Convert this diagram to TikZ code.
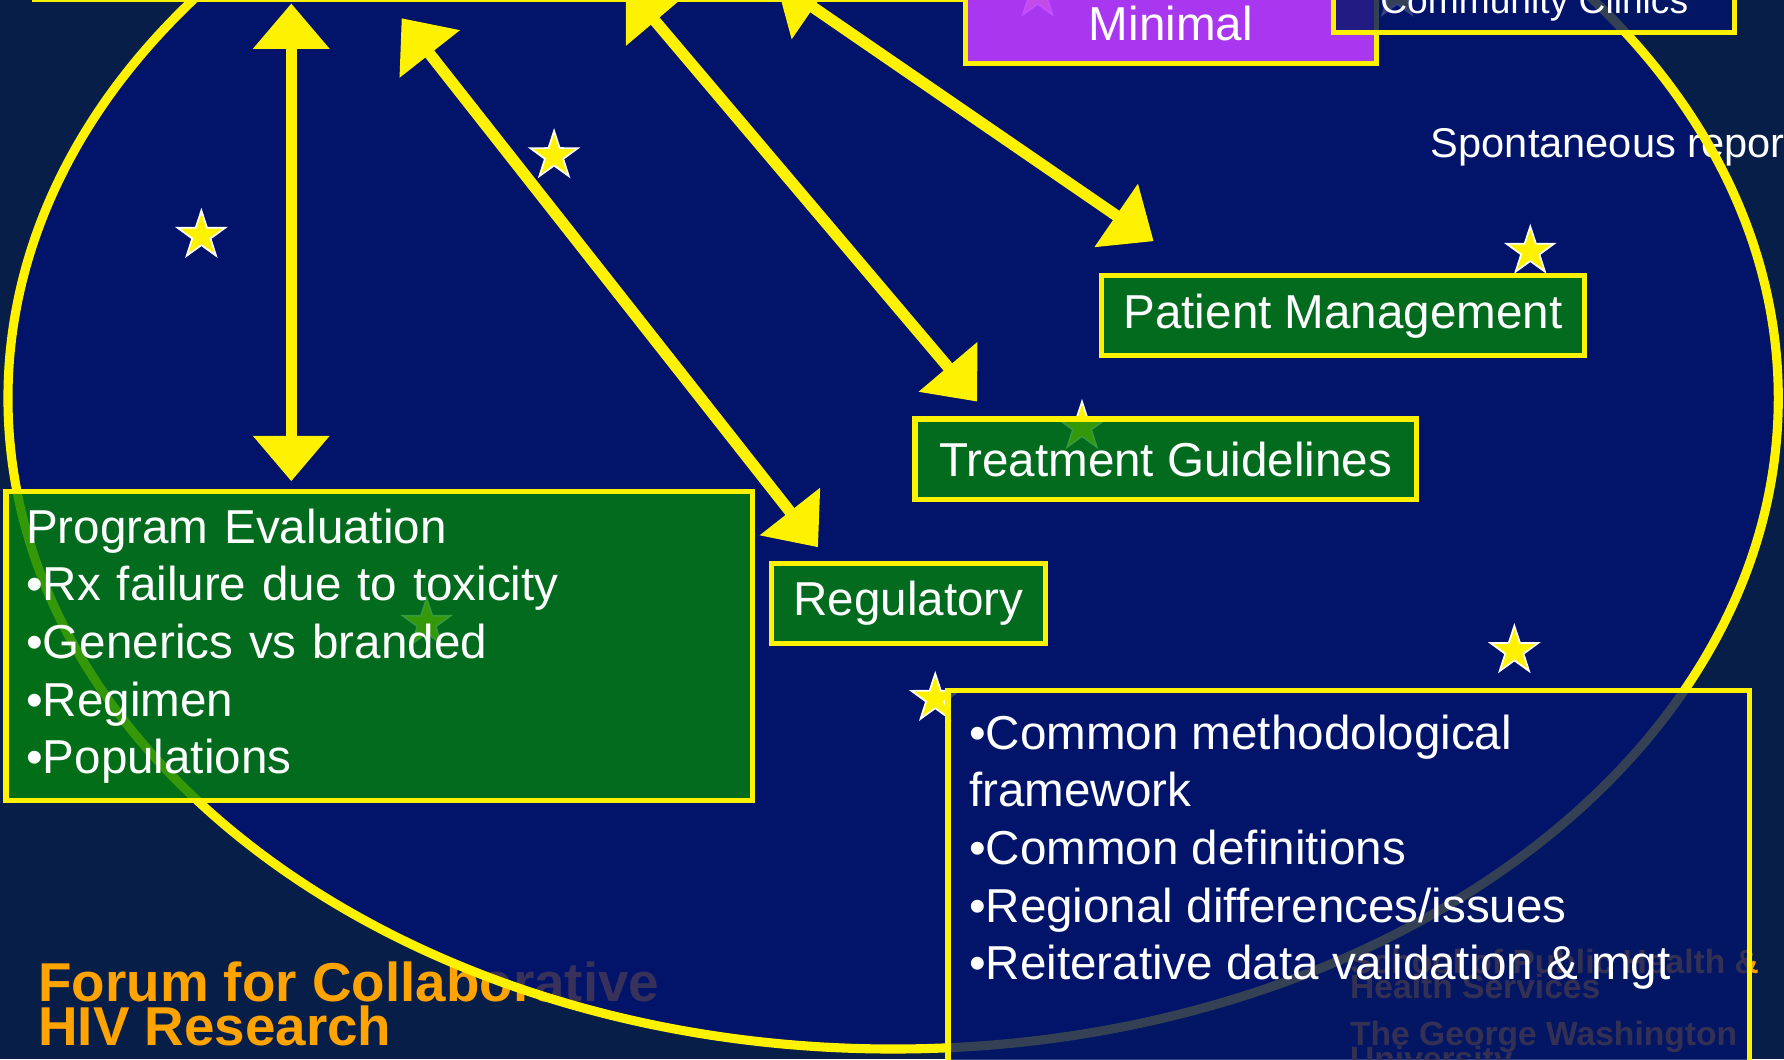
\documentclass[tikz,border=0pt]{standalone}
\usepackage{fontspec}
\setmainfont{Liberation Sans}
\usetikzlibrary{arrows.meta,shapes.geometric}

\definecolor{nightbg}{RGB}{6,30,72}
\definecolor{ovalblue}{RGB}{1,17,116}
\definecolor{boxgreen}{RGB}{2,130,11}
\definecolor{boxnavy}{RGB}{2,20,106}
\definecolor{boxpurple}{RGB}{189,59,255}
\definecolor{logoorange}{RGB}{255,163,0}

\newcommand{\tightlines}{\lineskiplimit=-5pt\relax}

\tikzset{
  box/.style={draw=yellow, line width=0.45mm, fill opacity=0.8, text opacity=1,
    text=white, inner sep=0pt, font=\fontsize{11.9}{14.4}\selectfont},
  greenbox/.style={box, fill=boxgreen},
  navybox/.style={box, fill=boxnavy},
  purplebox/.style={box, fill=boxpurple, fill opacity=0.9},
  twinkle/.style={star, star points=5, star point ratio=2.6, minimum size=4.4mm,
    inner sep=0pt, fill=yellow, draw=white, line width=0.15mm},
  link/.style={yellow, line width=1mm,
    {Triangle[length=4mm,width=6.5mm]}-{Triangle[length=4mm,width=6.5mm]}},
  logo/.style={text=logoorange, inner sep=0pt, anchor=north west, align=left}
}

\begin{document}
\begin{tikzpicture}[x=0.1mm, y=-0.1mm]
	\useasboundingbox (0,0) rectangle (1568,931);
	\clip (0,0) rectangle (1568,931);
	\fill[nightbg] (0,0) rectangle (1568,931);

	% logo texts, the oval is laid over them
	\node[logo, font=\bfseries\fontsize{13.7}{10.8}\selectfont] (forum) at (33,845) {Forum for Collaborative\\HIV Research};
	\node[logo, font=\bfseries\fontsize{8.4}{6.26}\selectfont\tightlines] (gwu) at (1186,833.4) {School of Public Health \&\\Health Services\\[1.9mm]The George Washington\\University};

	% the oval
	\fill[ovalblue, fill opacity=0.78] (785,350) ellipse [x radius=77.8mm, y radius=57.2mm];
	\node[anchor=base west, text=white, inner sep=0pt, font=\fontsize{10.4}{12}\selectfont] (spont) at (1257,138) {Spontaneous repor};
	\draw[yellow, line width=0.8mm] (785,350) ellipse [x radius=77.8mm, y radius=57.2mm];

	% stars
	\foreach \sx/\sy [count=\i] in {177/207, 487/137, 1345/221, 951/375, 375/548, 1331/572, 822/614, 912/-5, 1228/-5}
		\node[twinkle] (star\i) at (\sx,\sy) {};

	% boxes
	\node[box, minimum width=81.35mm, minimum height=19.55mm] (hub) at (437,-98) {};
	\node[purplebox, minimum width=36.15mm, minimum height=6.95mm] (minimal) at (1029,21) {Minimal};
	\node[navybox, font=\fontsize{9.3}{11}\selectfont, minimum width=35.25mm, minimum height=5.15mm] (clinics) at (1348.5,3) {Community Clinics};
	\node[greenbox, minimum width=42.45mm, minimum height=7.05mm] (patient) at (1180.5,277.5) {Patient Management};
	\node[greenbox, minimum width=44.05mm, minimum height=7.05mm] (guide) at (1024.5,403.5) {Treatment Guidelines};
	\node[greenbox, minimum width=24.05mm, minimum height=7.05mm] (regul) at (798.5,530.5) {Regulatory};
	\node[greenbox, minimum width=65.65mm, minimum height=27.15mm, text width=62.1mm, align=left] (progeval) at (333.5,568)
		{Program Evaluation\\•Rx failure due to toxicity\\•Generics vs branded\\•Regimen\\•Populations};
	\node[navybox, minimum width=70.45mm, minimum height=39.05mm] (method) at (1185.5,802.5) {};
	\node[anchor=north west, text=white, inner sep=0pt, align=left, font=\fontsize{11.9}{14.4}\selectfont] (methtext)
		at ([xshift=2mm, yshift=-2.26mm]method.north west)
		{•Common methodological\\framework\\•Common definitions\\•Regional differences/issues\\•Reiterative data validation \& mgt};

	% arrows
	\coordinate (evtop) at (256,3);
	\coordinate (regtop) at (353,16);
	\coordinate (guidetop) at (550,-12);
	\coordinate (pattop) at (682,-16);
	\coordinate (evend) at ([yshift=0.7mm]progeval.north -| evtop);
	\coordinate (regend) at ([xshift=4.3mm, yshift=1.2mm]regul.north west);
	\coordinate (guideend) at ([xshift=5.7mm, yshift=1.3mm]guide.north west);
	\coordinate (patend) at ([xshift=4.8mm, yshift=2.8mm]patient.north west);
	\draw[link] (evtop) -- (evend);
	\draw[link] (regtop) -- (regend);
	\draw[link] (guidetop) -- (guideend);
	\draw[link] (pattop) -- (patend);
\end{tikzpicture}
\end{document}
